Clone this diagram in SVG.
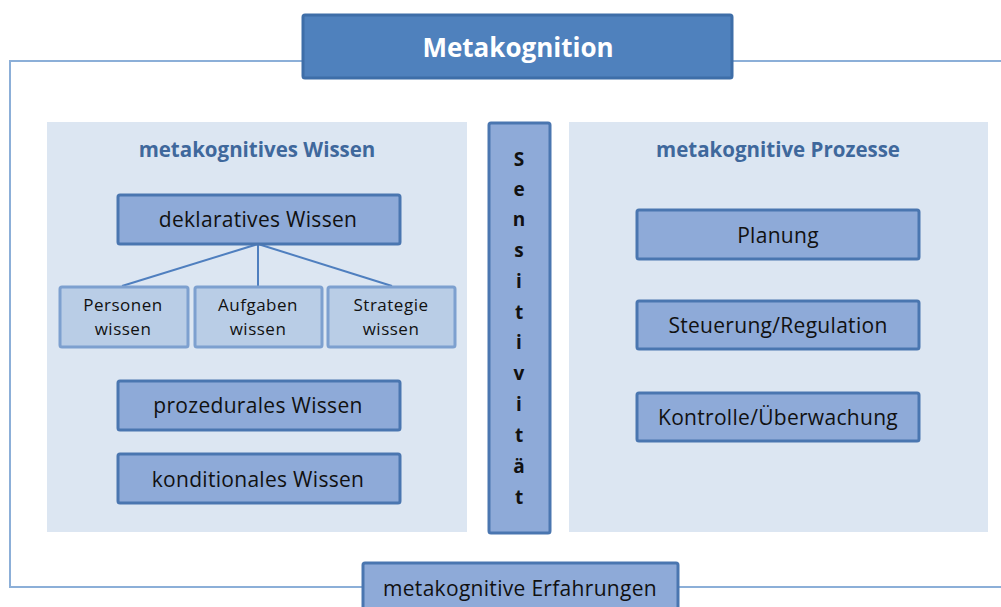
<svg xmlns="http://www.w3.org/2000/svg" width="1001" height="607" viewBox="0 0 1001 607">
<style>
text{font-family:"Open Sans","Liberation Sans",sans-serif;text-anchor:middle;dominant-baseline:central;fill:#111}
.panel{fill:#dce6f2}
.box{fill:#8eaad8;stroke:#4a76b0;stroke-width:3}
.sub{fill:#b9cde6;stroke:#7da0cf;stroke-width:3}
.lbl{font-size:21px;letter-spacing:0.3px}
.slbl{font-size:17px;letter-spacing:0.5px}
.hdr{font-size:20.5px;font-weight:bold;fill:#3f689c}
.sv{font-size:19px;font-weight:bold}
.conn{stroke:#4f7fbf;stroke-width:2;fill:none}
.frame{stroke:#8cafd8;stroke-width:2;fill:none}
</style>
<rect width="1001" height="607" fill="#fff"/>
<g id="frame">
<path class="frame" d="M303 61 H10 V587 H363"/>
<path class="frame" d="M733 61 H1001"/>
<path class="frame" d="M679 587 H1001"/>
</g>
<g id="panel-wissen">
<rect class="panel" x="47" y="122" width="420" height="410"/>
<text class="hdr" x="257" y="149">metakognitives Wissen</text>
</g>
<g id="panel-prozesse">
<rect class="panel" x="569" y="122" width="419" height="410"/>
<text class="hdr" x="778" y="149">metakognitive Prozesse</text>
</g>
<g id="connectors">
<line class="conn" x1="258" y1="244" x2="122" y2="286"/>
<line class="conn" x1="258" y1="244" x2="258" y2="286"/>
<line class="conn" x1="258" y1="244" x2="392" y2="286"/>
</g>
<g id="metakognition">
<rect x="303" y="15" width="429" height="63" rx="2" fill="#4f81bd" stroke="#3e6ea8" stroke-width="3"/>
<text x="518" y="47" font-size="26" font-weight="bold" style="fill:#fff">Metakognition</text>
</g>
<g id="deklarativ">
<rect class="box" x="118" y="195" width="282" height="49" rx="2"/>
<text class="lbl" x="258" y="219">deklaratives Wissen</text>
</g>
<g id="personen">
<rect class="sub" x="60" y="287" width="128" height="60" rx="2"/>
<text class="slbl" x="123" y="304">Personen</text>
<text class="slbl" x="123" y="328">wissen</text>
</g>
<g id="aufgaben">
<rect class="sub" x="195" y="287" width="127" height="60" rx="2"/>
<text class="slbl" x="258" y="304">Aufgaben</text>
<text class="slbl" x="258" y="328">wissen</text>
</g>
<g id="strategie">
<rect class="sub" x="328" y="287" width="127" height="60" rx="2"/>
<text class="slbl" x="391" y="304">Strategie</text>
<text class="slbl" x="391" y="328">wissen</text>
</g>
<g id="prozedural">
<rect class="box" x="118" y="381" width="282" height="49" rx="2"/>
<text class="lbl" x="258" y="405">prozedurales Wissen</text>
</g>
<g id="konditional">
<rect class="box" x="118" y="454" width="282" height="49" rx="2"/>
<text class="lbl" x="258" y="479">konditionales Wissen</text>
</g>
<g id="sensitivitaet">
<rect class="box" x="489" y="123" width="61" height="410" rx="2"/>
<text class="sv" x="519" y="159">S</text>
<text class="sv" x="519" y="189">e</text>
<text class="sv" x="519" y="219">n</text>
<text class="sv" x="519" y="250">s</text>
<text class="sv" x="519" y="281">i</text>
<text class="sv" x="519" y="312">t</text>
<text class="sv" x="519" y="342">i</text>
<text class="sv" x="519" y="373">v</text>
<text class="sv" x="519" y="404">i</text>
<text class="sv" x="519" y="435">t</text>
<text class="sv" x="519" y="466">ä</text>
<text class="sv" x="519" y="497">t</text>
</g>
<g id="planung">
<rect class="box" x="637" y="210" width="282" height="49" rx="2"/>
<text class="lbl" x="778" y="235">Planung</text>
</g>
<g id="steuerung">
<rect class="box" x="637" y="301" width="282" height="48" rx="2"/>
<text class="lbl" x="778" y="325">Steuerung/Regulation</text>
</g>
<g id="kontrolle">
<rect class="box" x="637" y="393" width="282" height="48" rx="2"/>
<text class="lbl" x="778" y="417">Kontrolle/Überwachung</text>
</g>
<g id="erfahrungen">
<rect class="box" x="363" y="563" width="315" height="50" rx="2"/>
<text class="lbl" x="520" y="588">metakognitive Erfahrungen</text>
</g>
</svg>
